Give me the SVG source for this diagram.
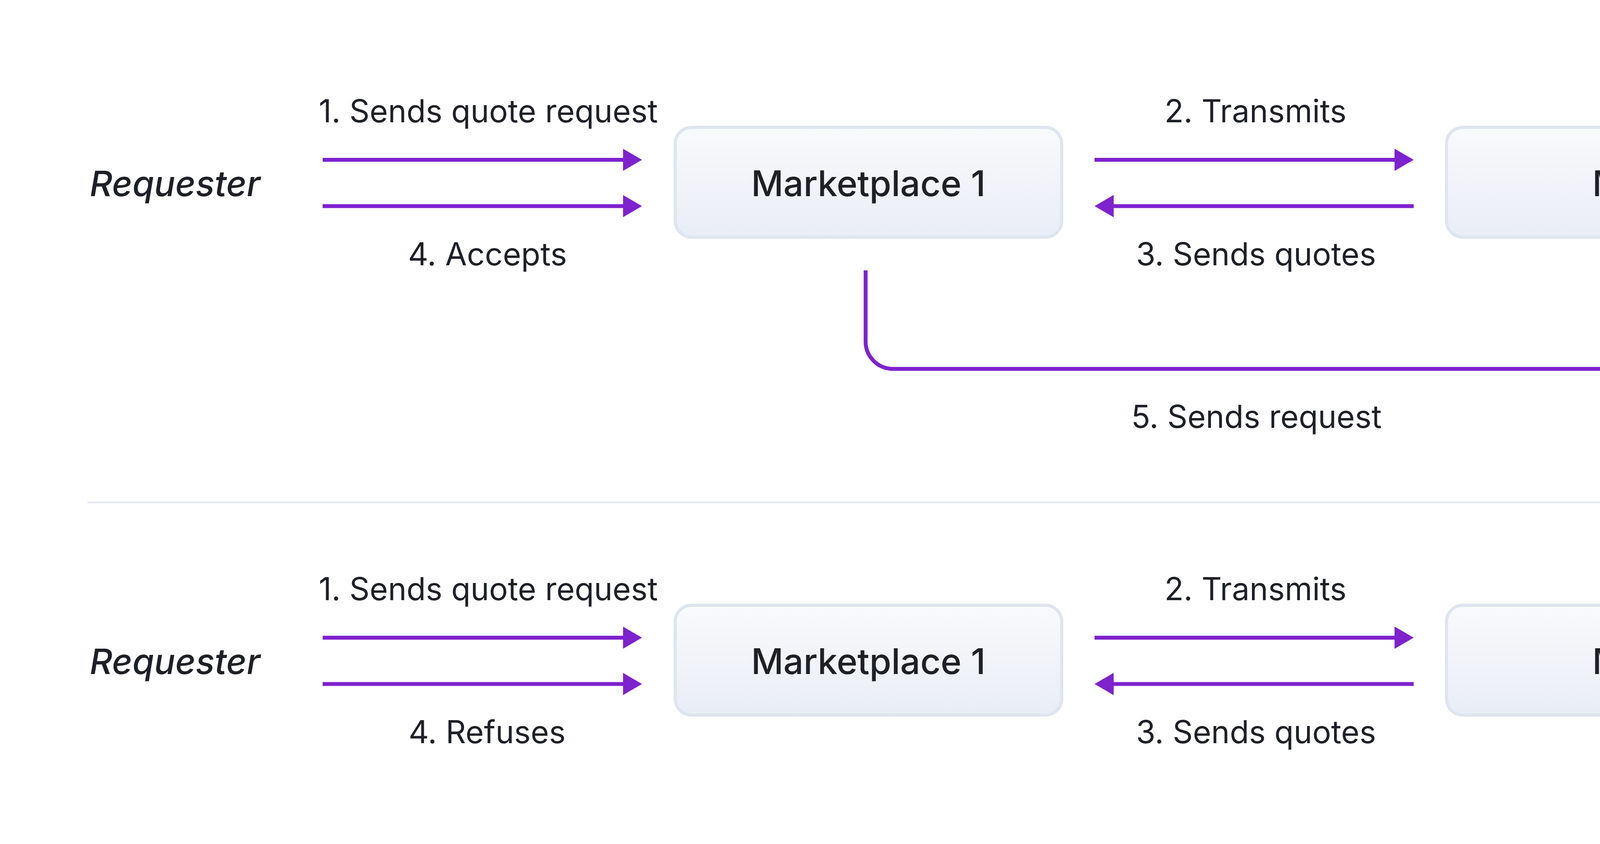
<svg xmlns="http://www.w3.org/2000/svg" width="4920" height="2160" viewBox="0 0 4920 2160">
  <defs>
    <linearGradient id="boxfill" x1="0" y1="0" x2="0" y2="1">
      <stop offset="0" stop-color="#f9fafc"/>
      <stop offset="1" stop-color="#e9edf6"/>
    </linearGradient>
    <marker id="ah" markerUnits="userSpaceOnUse" markerWidth="50" markerHeight="58" viewBox="0 -29 50 58" refX="1" refY="0" orient="auto">
      <path d="M0,-28.5 L49,0 L0,28.5 Z" fill="#7e22ce"/>
    </marker>
    <style>
      .box { fill: url(#boxfill); stroke: #dfe5ee; stroke-width: 8; }
      .node-label { font-family: Inter, "Liberation Sans", sans-serif; font-size: 90.5px; font-weight: 500; fill: #1e2027; text-anchor: middle; }
      .actor { font-family: Inter, "Liberation Sans", sans-serif; font-size: 90px; font-weight: 500; font-style: italic; fill: #1e2027; text-anchor: middle; }
      .edge-label { font-family: Inter, "Liberation Sans", sans-serif; font-size: 80.5px; font-weight: 400; fill: #1e2027; text-anchor: middle; }
      .edge { fill: none; stroke: #7e22ce; stroke-width: 10; marker-end: url(#ah); }
      .divider { stroke: #e2e7f0; stroke-width: 4; }
    </style>
  </defs>
  <rect width="4920" height="2160" fill="#ffffff"/>

  <!-- Top scenario -->
  <g id="requester-1">
    <text class="actor" x="448" y="502">Requester</text>
  </g>
  <g id="marketplace-1">
    <rect class="box" x="1728.5" y="326" width="989.5" height="281" rx="42" ry="42"/>
    <text class="node-label" x="2223" y="501.5">Marketplace 1</text>
  </g>
  <g id="mech-1">
    <rect class="box" x="3703" y="326" width="989.5" height="281" rx="42" ry="42"/>
    <text class="node-label" x="4197.5" y="501.5">Mech</text>
  </g>

  <g id="connectors-1">
    <path class="edge" d="M826,409 H1595.5"/>
    <path class="edge" d="M826,527.5 H1595.5"/>
    <path class="edge" d="M2802,409 H3571"/>
    <path class="edge" d="M3619,527.5 H2850"/>
    <path class="edge" d="M2216,692 V874 A70,70 0 0 0 2286,944 H4122 A70,70 0 0 0 4192,874 V740.5"/>
  </g>
  <g id="edge-labels-1">
    <text class="edge-label" x="1250" y="313">1. Sends quote request</text>
    <text class="edge-label" x="1248" y="678.5">4. Accepts</text>
    <text class="edge-label" x="3214" y="313">2. Transmits</text>
    <text class="edge-label" x="3215.5" y="679">3. Sends quotes</text>
    <text class="edge-label" x="3216.5" y="1094.5">5. Sends request</text>
  </g>

  <line class="divider" x1="224" y1="1285.7" x2="4696" y2="1285.7"/>

  <!-- Bottom scenario -->
  <g id="requester-2">
    <text class="actor" x="448" y="1725">Requester</text>
  </g>
  <g id="marketplace-2">
    <rect class="box" x="1728.5" y="1549" width="989.5" height="281" rx="42" ry="42"/>
    <text class="node-label" x="2223" y="1724.5">Marketplace 1</text>
  </g>
  <g id="mech-2">
    <rect class="box" x="3703" y="1549" width="989.5" height="281" rx="42" ry="42"/>
    <text class="node-label" x="4197.5" y="1724.5">Mech</text>
  </g>

  <g id="connectors-2">
    <path class="edge" d="M826,1632 H1595.5"/>
    <path class="edge" d="M826,1750.5 H1595.5"/>
    <path class="edge" d="M2802,1632 H3571"/>
    <path class="edge" d="M3619,1750.5 H2850"/>
  </g>
  <g id="edge-labels-2">
    <text class="edge-label" x="1250" y="1536">1. Sends quote request</text>
    <text class="edge-label" x="1247" y="1901.5">4. Refuses</text>
    <text class="edge-label" x="3214" y="1536">2. Transmits</text>
    <text class="edge-label" x="3215.5" y="1902">3. Sends quotes</text>
  </g>
</svg>
